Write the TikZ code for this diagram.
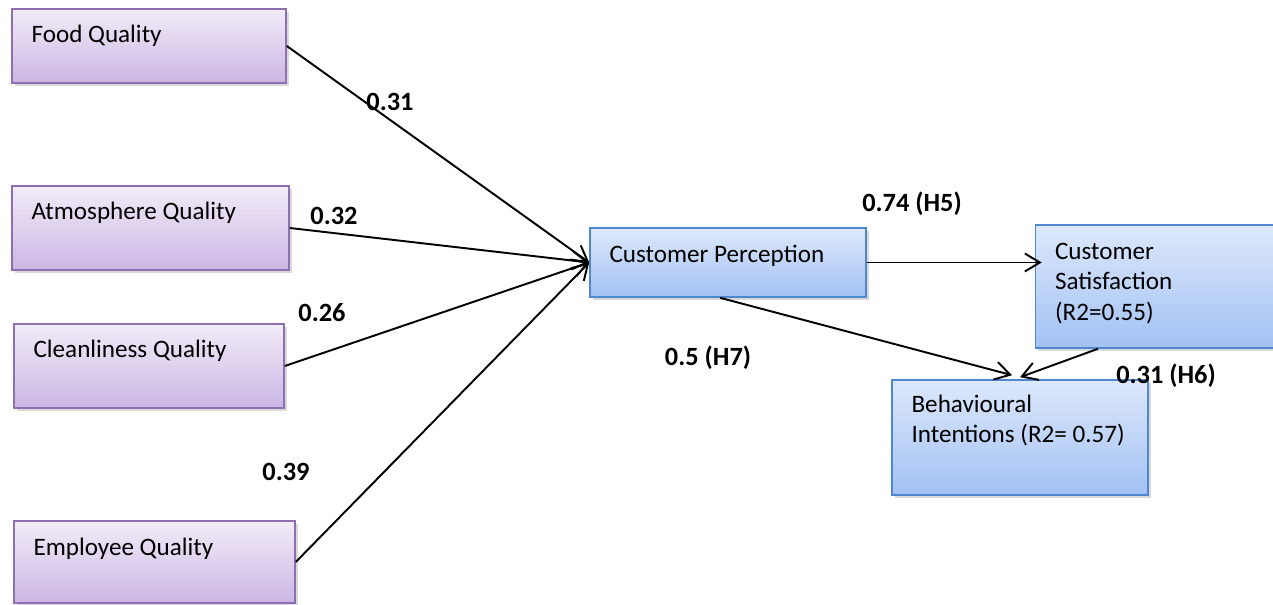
\documentclass[tikz,border=0pt]{standalone}
\usepackage{fontspec}
\setmainfont{Carlito}
\usetikzlibrary{arrows.meta, positioning, shadows}

\definecolor{violetHaut}{HTML}{F2ECF8}
\definecolor{violetBas}{HTML}{CBB6E4}
\definecolor{violetBord}{HTML}{8E70B2}
\definecolor{bleuHaut}{HTML}{DDE8FB}
\definecolor{bleuBas}{HTML}{A2C1F4}
\definecolor{bleuBord}{HTML}{5088CF}

\begin{document}
\begin{tikzpicture}[
  font=\fontsize{14.3}{17.4}\selectfont,
  facteur/.style={
    draw=violetBord,
    line width=0.9pt,
    top color=violetHaut,
    bottom color=violetBas,
    drop shadow={opacity=0.3, shadow xshift=0.05cm, shadow yshift=-0.07cm},
    inner sep=0pt
  },
  bloc/.style={
    draw=bleuBord,
    line width=0.9pt,
    top color=bleuHaut,
    bottom color=bleuBas,
    drop shadow={opacity=0.3, shadow xshift=0.05cm, shadow yshift=-0.07cm},
    inner sep=0pt
  },
  % ancre sur la ligne de base de la derniere ligne
  texte/.style={
    anchor=base west,
    inner sep=0pt,
    align=left
  },
  coef/.style={
    font=\bfseries\fontsize{15}{18}\selectfont,
    inner sep=0pt
  },
  lien/.style={
    -{Straight Barb[length=3mm, width=3.6mm]},
    line width=1.1pt,
    draw=black
  }
]
\useasboundingbox (0,0) rectangle (25.46,12.10);

% Facteurs de qualite
\node[facteur, minimum width=5.48cm, minimum height=1.48cm] (food) at (2.98, 11.18) {};
\node[texte] (food-t) at ([xshift=0.4cm, yshift=-0.68cm] food.north west) {Food Quality};
\node[facteur, minimum width=5.54cm, minimum height=1.68cm] (atmo) at (3.01, 7.54) {};
\node[texte] (atmo-t) at ([xshift=0.4cm, yshift=-0.68cm] atmo.north west) {Atmosphere Quality};
\node[facteur, minimum width=5.40cm, minimum height=1.68cm] (clean) at (2.98, 4.78) {};
\node[texte] (clean-t) at ([xshift=0.4cm, yshift=-0.68cm] clean.north west) {Cleanliness Quality};
\node[facteur, minimum width=5.62cm, minimum height=1.64cm] (empl) at (3.09, 0.86) {};
\node[texte] (empl-t) at ([xshift=0.4cm, yshift=-0.70cm] empl.north west) {Employee Quality};

% Construits
\node[bloc, minimum width=5.52cm, minimum height=1.38cm] (cp) at (14.56, 6.85) {};
\node[texte] (cp-t) at ([xshift=0.4cm, yshift=-0.70cm] cp.north west) {Customer Perception};
\node[bloc, minimum width=4.90cm, minimum height=2.46cm] (cs) at (23.16, 6.37) {};
\node[texte] (cs-t) at ([xshift=0.4cm, yshift=-1.92cm] cs.north west) {Customer\\Satisfaction\\(R2=0.55)};
\node[bloc, minimum width=5.12cm, minimum height=2.30cm] (bi) at (20.40, 3.35) {};
\node[texte] (bi-t) at ([xshift=0.4cm, yshift=-1.27cm] bi.north west) {Behavioural\\Intentions (R2= 0.57)};

% Liaisons
\draw[lien] (food.east) -- (cp.west);
\draw[lien] (atmo.east) -- (cp.west);
\draw[lien] (clean.east) -- (cp.west);
\draw[lien] (empl.east) -- (cp.west);
\draw[lien] (cp.east) -- ([xshift=0.14cm] cp.east -| cs.west);
\draw[lien] ([xshift=-0.16cm] cp.south) -- ([xshift=-0.16cm, yshift=0.08cm] bi.north);
\draw[lien] ([xshift=-1.2cm] cs.south) -- ([yshift=0.04cm] bi.north);

% Coefficients
\node[coef] (c-food) at (7.80, 10.06) {0.31};
\node[coef] (c-atmo) at (6.68, 7.78) {0.32};
\node[coef] (c-clean) at (6.44, 5.84) {0.26};
\node[coef] (c-empl) at (5.72, 2.66) {0.39};
\node[coef] (c-h5) at (18.24, 8.02) {0.74 (H5)};
\node[coef] (c-h7) at (14.16, 4.94) {0.5 (H7)};
\node[coef] (c-h6) at (23.32, 4.58) {0.31 (H6)};

\end{tikzpicture}
\end{document}
